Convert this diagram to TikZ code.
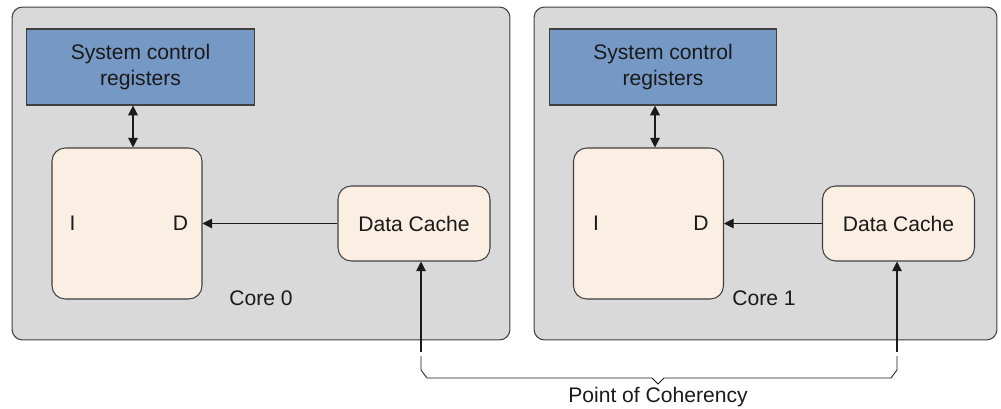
\documentclass[tikz,border=0pt]{standalone}
\usepackage{fontspec}
\setmainfont{Liberation Sans}
\usetikzlibrary{arrows.meta,positioning,calc}
\definecolor{coregray}{HTML}{D9D9D9}
\definecolor{regblue}{HTML}{7698C5}
\definecolor{cachecream}{HTML}{FBEEE3}
\definecolor{edgegray}{HTML}{404040}
\definecolor{inkblack}{HTML}{1A1A1A}

\begin{document}
\begin{tikzpicture}[x=0.02cm,y=-0.02cm,font=\fontsize{12}{15}\selectfont,text=inkblack,line width=0.6pt]
  \useasboundingbox (0,0) rectangle (1001,409);
  \tikzset{
    corebox/.style={draw=edgegray,fill=coregray,rounded corners=6pt,minimum height=6.66cm},
    regbox/.style={draw=edgegray,fill=regblue,align=center,minimum width=4.55cm,minimum height=1.52cm,line width=0.7pt},
    unitbox/.style={draw=edgegray,fill=cachecream,rounded corners=7.5pt,align=center},
    arr/.style={-{Triangle[length=5.5pt,width=5.5pt]},inkblack},
    both/.style={{Triangle[length=5.5pt,width=5.5pt]}-{Triangle[length=5.5pt,width=5.5pt]},inkblack}
  }
  \node[corebox,minimum width=9.96cm] (cluster0) at (261,173.5) {};
  \node[corebox,minimum width=9.26cm] (cluster1) at (765.5,173.5) {};

  \node[regbox] (reg0) at (140.5,67) {System control\\registers};
  \node[regbox] (reg1) at (663,67) {System control\\registers};

  \node[unitbox,minimum width=3cm,minimum height=3.02cm] (core0) at (127,223.5) {};
  \node[unitbox,minimum width=3cm,minimum height=3.02cm] (core1) at (648.5,223.5) {};
  \node[unitbox,minimum width=3.04cm,minimum height=1.5cm] (cache0) at (414,223.5) {Data Cache};
  \node[unitbox,minimum width=3.04cm,minimum height=1.5cm] (cache1) at (898.5,223.5) {Data Cache};

  \node (i0) at ($(core0.west)+(21,0)$) {I};
  \node (d0) at ($(core0.east)+(-22,0)$) {D};
  \node (i1) at ($(core1.west)+(23,0)$) {I};
  \node (d1) at ($(core1.east)+(-23,0)$) {D};
  \node (lbl0) at (261,298) {Core 0};
  \node (lbl1) at (764,298) {Core 1};

  \coordinate (link0) at ($(core0.north)+(6,0)$);
  \coordinate (link1) at ($(core1.north)+(6.5,0)$);
  \draw[both] (reg0.south -| link0) -- (link0);
  \draw[both] (reg1.south -| link1) -- (link1);

  \draw[arr] (cache0.west) -- (core0.east);
  \draw[arr] (cache1.west) -- (core1.east);

  \coordinate (poc0) at (421,352);
  \coordinate (poc1) at (897,352);
  \draw[arr] (poc0) -- (poc0 |- cache0.south);
  \draw[arr] (poc1) -- (poc1 |- cache1.south);

  % brace under both cores
  \coordinate (notch) at (658,384);
  \draw[inkblack,line width=0.5pt] ($(poc0)+(0,4)$) -- ($(poc0)+(0,18)$) -- ($(poc0)+(6,26)$)
    -- ($(notch)+(-6,-6)$) -- (notch) -- ($(notch)+(6,-6)$)
    -- ($(poc1)+(-6,26)$) -- ($(poc1)+(0,18)$) -- ($(poc1)+(0,4)$);
  \node (poc) at (658,397) {Point of Coherency};
\end{tikzpicture}
\end{document}
